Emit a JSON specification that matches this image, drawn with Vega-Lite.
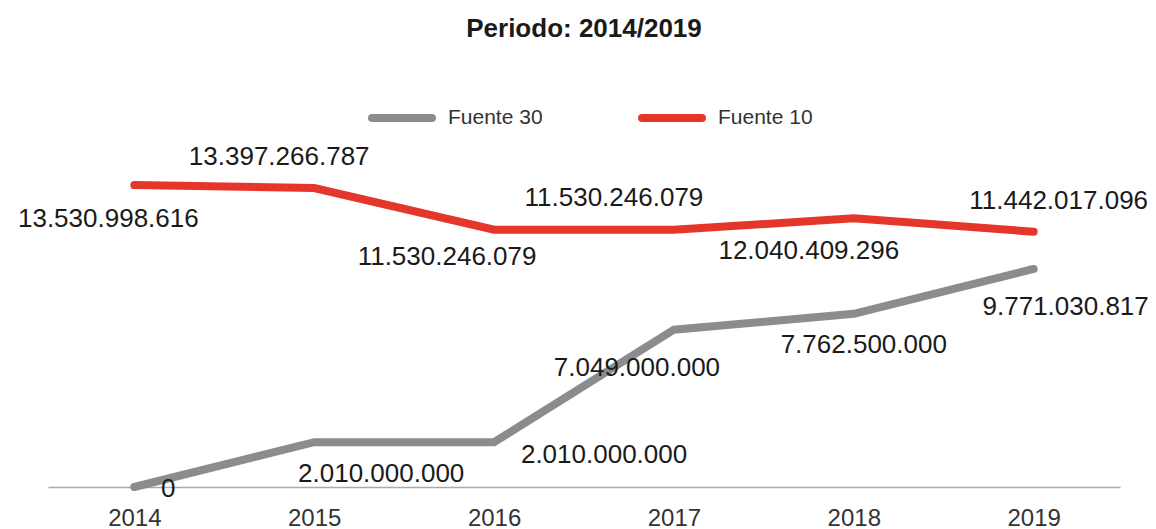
{
  "$schema": "https://vega.github.io/schema/vega-lite/v6.json",
  "width": 1072,
  "height": 357,
  "autosize": "none",
  "padding": {"left": 48, "top": 130, "right": 36, "bottom": 42},
  "background": "white",
  "config": {
    "view": {"stroke": null},
    "font": "Liberation Sans",
    "locale": {"number": {"decimal": ",", "thousands": ".", "grouping": [3], "currency": ["$", ""]}}
  },
  "title": {
    "text": "Periodo: 2014/2019",
    "font": "Liberation Sans",
    "fontSize": 26,
    "fontWeight": "bold",
    "color": "#1a1a1a",
    "anchor": "middle",
    "offset": 42
  },
  "data": {
    "values": [
      {"year": "2014", "serie": "Fuente 30", "value": 0},
      {"year": "2015", "serie": "Fuente 30", "value": 2010000000},
      {"year": "2016", "serie": "Fuente 30", "value": 2010000000},
      {"year": "2017", "serie": "Fuente 30", "value": 7049000000},
      {"year": "2018", "serie": "Fuente 30", "value": 7762500000},
      {"year": "2019", "serie": "Fuente 30", "value": 9771030817},
      {"year": "2014", "serie": "Fuente 10", "value": 13530998616},
      {"year": "2015", "serie": "Fuente 10", "value": 13397266787},
      {"year": "2016", "serie": "Fuente 10", "value": 11530246079},
      {"year": "2017", "serie": "Fuente 10", "value": 11530246079},
      {"year": "2018", "serie": "Fuente 10", "value": 12040409296},
      {"year": "2019", "serie": "Fuente 10", "value": 11442017096}
    ]
  },
  "encoding": {
    "x": {
      "field": "year",
      "type": "ordinal",
      "scale": {"type": "point", "padding": 0.48},
      "axis": {
        "title": null,
        "labelAngle": 0,
        "labelFont": "Liberation Sans",
        "labelFontSize": 24,
        "labelColor": "#333333",
        "labelPadding": 19,
        "ticks": false,
        "grid": false,
        "domain": true,
        "domainColor": "#aaaaaa",
        "domainWidth": 1.5
      }
    },
    "y": {
      "field": "value",
      "type": "quantitative",
      "scale": {"domain": [0, 16000000000], "nice": false},
      "axis": null
    }
  },
  "layer": [
    {
      "mark": {"type": "line", "strokeWidth": 8, "strokeCap": "round", "strokeJoin": "miter"},
      "encoding": {
        "color": {
          "field": "serie",
          "type": "nominal",
          "scale": {"domain": ["Fuente 30", "Fuente 10"], "range": ["#8c8c8c", "#e4362a"]},
          "legend": {
            "title": null,
            "orient": "none",
            "legendX": 320,
            "legendY": -46,
            "direction": "horizontal",
            "symbolType": "stroke",
            "symbolSize": 3600,
            "symbolStrokeWidth": 8,
            "labelFont": "Liberation Sans",
            "labelFontSize": 21,
            "labelColor": "#333333",
            "labelOffset": 12,
            "columnPadding": 83,
            "encode": {"symbols": {"update": {"strokeCap": {"value": "round"}}}}
          }
        }
      }
    },
    {"transform": [{"filter": "datum.serie == 'Fuente 10' && datum.year == '2014'"}], "mark": {"type": "text", "fontSize": 26, "color": "#1a1a1a", "dx": -26, "dy": 34}, "encoding": {"text": {"field": "value", "type": "quantitative", "format": ",d"}}},
    {"transform": [{"filter": "datum.serie == 'Fuente 10' && datum.year == '2015'"}], "mark": {"type": "text", "fontSize": 26, "color": "#1a1a1a", "dx": -35, "dy": -31}, "encoding": {"text": {"field": "value", "type": "quantitative", "format": ",d"}}},
    {"transform": [{"filter": "datum.serie == 'Fuente 10' && datum.year == '2016'"}], "mark": {"type": "text", "fontSize": 26, "color": "#1a1a1a", "dx": -47, "dy": 27}, "encoding": {"text": {"field": "value", "type": "quantitative", "format": ",d"}}},
    {"transform": [{"filter": "datum.serie == 'Fuente 10' && datum.year == '2017'"}], "mark": {"type": "text", "fontSize": 26, "color": "#1a1a1a", "dx": -60, "dy": -32}, "encoding": {"text": {"field": "value", "type": "quantitative", "format": ",d"}}},
    {"transform": [{"filter": "datum.serie == 'Fuente 10' && datum.year == '2018'"}], "mark": {"type": "text", "fontSize": 26, "color": "#1a1a1a", "dx": -45, "dy": 33}, "encoding": {"text": {"field": "value", "type": "quantitative", "format": ",d"}}},
    {"transform": [{"filter": "datum.serie == 'Fuente 10' && datum.year == '2019'"}], "mark": {"type": "text", "fontSize": 26, "color": "#1a1a1a", "dx": 25, "dy": -31}, "encoding": {"text": {"field": "value", "type": "quantitative", "format": ",d"}}},
    {"transform": [{"filter": "datum.serie == 'Fuente 30' && datum.year == '2014'"}], "mark": {"type": "text", "fontSize": 26, "color": "#1a1a1a", "dx": 34, "dy": 2}, "encoding": {"text": {"field": "value", "type": "quantitative", "format": ",d"}}},
    {"transform": [{"filter": "datum.serie == 'Fuente 30' && datum.year == '2015'"}], "mark": {"type": "text", "fontSize": 26, "color": "#1a1a1a", "dx": 67, "dy": 32}, "encoding": {"text": {"field": "value", "type": "quantitative", "format": ",d"}}},
    {"transform": [{"filter": "datum.serie == 'Fuente 30' && datum.year == '2016'"}], "mark": {"type": "text", "fontSize": 26, "color": "#1a1a1a", "dx": 110, "dy": 13}, "encoding": {"text": {"field": "value", "type": "quantitative", "format": ",d"}}},
    {"transform": [{"filter": "datum.serie == 'Fuente 30' && datum.year == '2017'"}], "mark": {"type": "text", "fontSize": 26, "color": "#1a1a1a", "dx": -37, "dy": 38}, "encoding": {"text": {"field": "value", "type": "quantitative", "format": ",d"}}},
    {"transform": [{"filter": "datum.serie == 'Fuente 30' && datum.year == '2018'"}], "mark": {"type": "text", "fontSize": 26, "color": "#1a1a1a", "dx": 10, "dy": 31}, "encoding": {"text": {"field": "value", "type": "quantitative", "format": ",d"}}},
    {"transform": [{"filter": "datum.serie == 'Fuente 30' && datum.year == '2019'"}], "mark": {"type": "text", "fontSize": 26, "color": "#1a1a1a", "dx": 32, "dy": 38}, "encoding": {"text": {"field": "value", "type": "quantitative", "format": ",d"}}}
  ]
}
